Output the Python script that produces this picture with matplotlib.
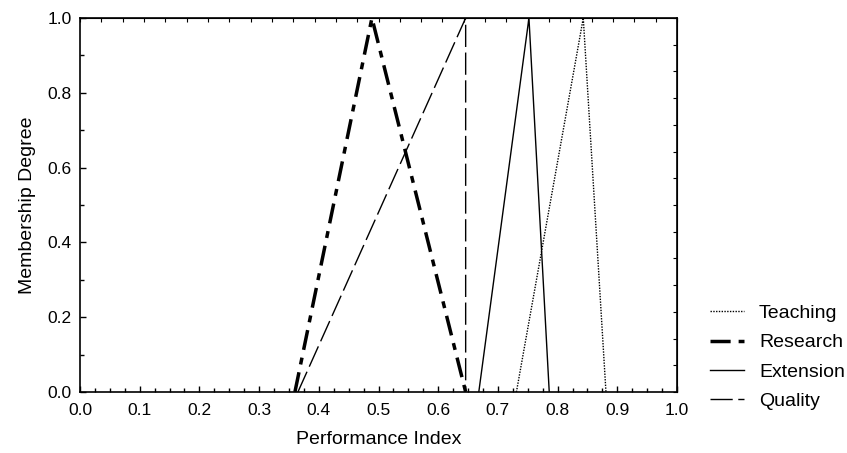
import matplotlib
matplotlib.use("Agg")
import matplotlib.pyplot as plt
from matplotlib.ticker import MultipleLocator

plt.rcParams['font.family'] = ['Liberation Sans', 'DejaVu Sans']

# triangular membership functions: left foot, peak, right foot
teaching_x = [0.731, 0.843, 0.881]
teaching_y = [0.0, 1.0, 0.0]
research_x = [0.360, 0.489, 0.646]
research_y = [0.0, 1.0, 0.0]
extension_x = [0.668, 0.752, 0.786]
extension_y = [0.0, 1.0, 0.0]
quality_x = [0.365, 0.646, 0.646]
quality_y = [0.0, 1.0, 0.0]

fig = plt.figure(figsize=(8.47, 4.53), dpi=100)
ax = fig.add_axes([80 / 847, 61 / 453, 597 / 847, 374 / 453])

ax.plot(teaching_x, teaching_y, color="black", lw=1.0, linestyle=(0, (1, 1)), label="Teaching")
ax.plot(research_x, research_y, color="black", lw=2.5, linestyle=(0, (5.8, 2.3, 2, 2.3)), label="Research")
ax.plot(extension_x, extension_y, color="black", lw=1.0, linestyle="-", label="Extension")
ax.plot(quality_x, quality_y, color="black", lw=1.0, linestyle=(0, (16, 4)), label="Quality")

ax.set_xlim(0, 1)
ax.set_ylim(0, 1)
ax.xaxis.set_major_locator(MultipleLocator(0.1))
ax.xaxis.set_minor_locator(MultipleLocator(0.025))
ax.yaxis.set_major_locator(MultipleLocator(0.2))
ax.yaxis.set_minor_locator(MultipleLocator(0.1))
ax.xaxis.set_major_formatter(lambda v, p: f"{v:.1f}")
ax.yaxis.set_major_formatter(lambda v, p: f"{v:.1f}")
ax.tick_params(which="both", direction="in", labelsize=12.5, width=1)
ax.tick_params(which="major", length=4)
ax.tick_params(which="minor", length=3)
ax.tick_params(axis="x", pad=8)
ax.tick_params(axis="y", pad=6)
for s in ax.spines.values():
    s.set_linewidth(1.2)

top = ax.secondary_xaxis("top")
top.set_xticks([k / 28 for k in range(29)])
top.set_xticklabels([])
top.tick_params(direction="in", length=3)

right = ax.secondary_yaxis("right")
right.set_yticks([k / 14 for k in range(15)])
right.set_yticklabels([])
right.tick_params(direction="in", length=3)

ax.set_xlabel("Performance Index", fontsize=14, labelpad=9)
ax.set_ylabel("Membership Degree", fontsize=14, labelpad=8.5)

ax.legend(loc="lower left", bbox_to_anchor=(1.043, -0.069), frameon=False,
          fontsize=14, handlelength=1.7, labelspacing=0.6, handletextpad=0.8,
          borderaxespad=0)

fig.savefig("out.png", dpi=100)
